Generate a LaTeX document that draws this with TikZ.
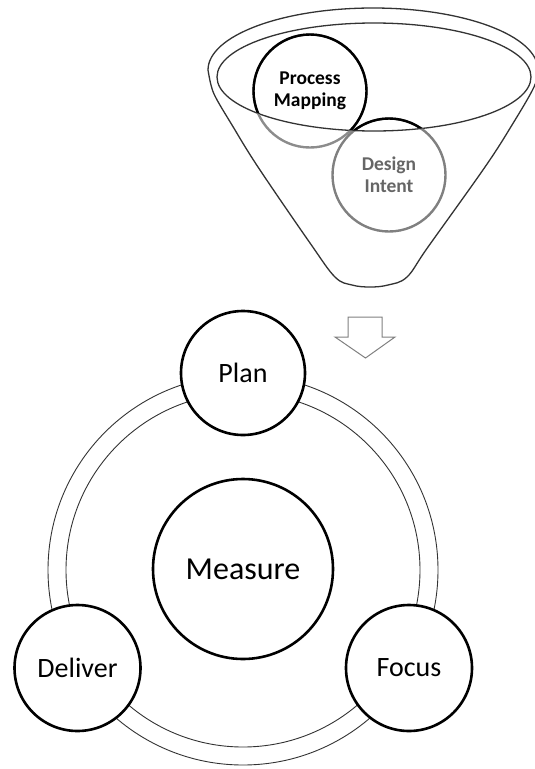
\documentclass[tikz,border=0pt]{standalone}
\usepackage{fontspec}
\setmainfont{Carlito}
\begin{document}
\begin{tikzpicture}[x=1pt,y=-1pt,
  ring/.style={draw=black!80, line width=0.9pt},
  stage/.style={circle, draw=black, line width=2.6pt, fill=white, inner sep=0pt, font=\fontsize{28}{30}\selectfont},
  fcirc/.style={circle, line width=2.4pt, inner sep=0pt, minimum size=113pt, align=center, font=\bfseries\fontsize{19.5}{22}\selectfont},
  funnel/.style={draw=black!80, line width=1.3pt},
  blockarrow/.style={draw=black!50, line width=1pt, fill=white}
  ]
\clip (0,0) rectangle (535,769);
% funnel rim and body
\draw[funnel] (208,70) arc[start angle=180,end angle=360,x radius=165,y radius=62];
\draw[funnel] plot[smooth, tension=0.6] coordinates {(208,70) (211,85) (216,98) (232,125) (258,167) (310,243) (335,277) (352,285) (370,287) (388,285) (407,277) (428,247) (485,167) (512,125) (534,87) (538,70)};
\draw[funnel] (374,77) ellipse[x radius=157, y radius=54];
% funnel circles
\node[fcirc, draw=black!45, text=black] (pm) at (310,91) {Process\\Mapping};
\node[fcirc, draw=black!50, text=black!60] (di) at (389,175) {Design\\Intent};
\begin{scope}
\clip (374,77) ellipse[x radius=157, y radius=54];
\draw[line width=2.4pt, black] (pm.center) circle[radius=56.5];
\draw[line width=2.4pt, black] (di.center) circle[radius=56.5];
\end{scope}
% block arrow
\coordinate (arr) at (365.5,317);
\draw[blockarrow] (348,317) -- (382,317) -- (382,337) -- (395,337) -- (365.5,358) -- (335,337) -- (348,337) -- cycle;
% ring
\coordinate (rc) at (243,570);
\draw[ring] (rc) circle[radius=195];
\draw[ring] (rc) circle[radius=177];
% stages
\node[stage, minimum size=124pt] (plan) at (243,373) {Plan};
\node[stage, minimum size=126pt] (deliver) at (77.5,668) {Deliver};
\node[stage, minimum size=126pt] (focus) at (409,668) {Focus};
\node[stage, minimum size=180pt, font=\fontsize{32}{34}\selectfont] (measure) at (243,569) {Measure};
\end{tikzpicture}
\end{document}
